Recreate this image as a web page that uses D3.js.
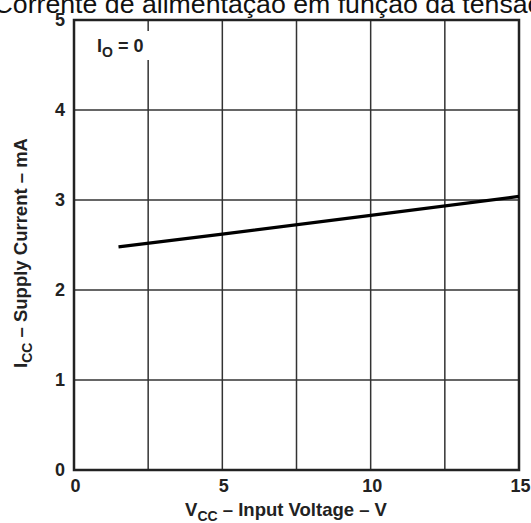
<!DOCTYPE html>
<html>
<head>
<meta charset="utf-8">
<script src="https://cdn.jsdelivr.net/npm/d3@7"></script>
<style>
  body { margin: 0; background: #fff; }
  svg { display: block; font-family: "Liberation Sans", Arial, sans-serif; }
  .rotulo { font-weight: bold; font-size: 18px; fill: #222; }
  .titulo { font-weight: bold; font-size: 18.5px; fill: #222; }
</style>
</head>
<body>
<svg id="grafico"></svg>
<script>
// dados
var tensao = [1.5, 5, 10, 15];            // VCC (V)
var corrente = [2.48, 2.62, 2.83, 3.04];  // ICC (mA)
var ticksX = [0, 5, 10, 15];
var gradeX = [2.5, 5, 7.5, 10, 12.5];
var ticksY = [0, 1, 2, 3, 4, 5];
var gradeY = [1, 2, 3, 4];

var largura = 531, altura = 523;
var margem = { esquerda: 74, direita: 12, superior: 20, inferior: 53 };
var larguraPlotagem = largura - margem.esquerda - margem.direita;
var alturaPlotagem = altura - margem.superior - margem.inferior;

var svg = d3.select('#grafico')
            .attr('width', largura)
            .attr('height', altura);

// titulo (cortado nas bordas como no original)
svg.append('text')
   .attr('x', 268)
   .attr('y', 13)
   .style('text-anchor', 'middle')
   .style('font-size', '26.7px')
   .style('fill', '#111')
   .text('Corrente de alimentação em função da tensão');

var plotagem = svg.append('g')
                  .attr('transform', 'translate(' + margem.esquerda + ',' + margem.superior + ')');

var x = d3.scaleLinear().domain([0, 15]).range([0, larguraPlotagem]);
var y = d3.scaleLinear().domain([0, 5]).range([alturaPlotagem, 0]);

// grade
plotagem.selectAll('.gradeX')
  .data(gradeX)
  .enter()
    .append('line')
    .attr('x1', d => x(d)).attr('x2', d => x(d))
    .attr('y1', 0).attr('y2', alturaPlotagem)
    .attr('stroke', '#333').attr('stroke-width', 1.5);

plotagem.selectAll('.gradeY')
  .data(gradeY)
  .enter()
    .append('line')
    .attr('x1', 0).attr('x2', larguraPlotagem)
    .attr('y1', d => y(d)).attr('y2', d => y(d))
    .attr('stroke', '#333').attr('stroke-width', 1.5);

// anotacao IO = 0 com fundo branco
plotagem.append('rect')
        .attr('x', 16).attr('y', 11)
        .attr('width', 62).attr('height', 29)
        .attr('fill', '#fff');
var anot = plotagem.append('text')
                   .attr('x', 23).attr('y', 32)
                   .attr('class', 'rotulo');
anot.append('tspan').text('I');
anot.append('tspan').attr('dy', 5).style('font-size', '14px').text('O');
anot.append('tspan').attr('dy', -5).text(' = 0');

// borda
plotagem.append('rect')
        .attr('x', 0).attr('y', 0)
        .attr('width', larguraPlotagem).attr('height', alturaPlotagem)
        .attr('fill', 'none').attr('stroke', '#222').attr('stroke-width', 2.5);

// curva
var linha = d3.line().x(d => x(d[0])).y(d => y(d[1]));
plotagem.append('path')
        .datum(d3.zip(tensao, corrente))
        .attr('d', linha)
        .attr('fill', 'none')
        .attr('stroke', '#000')
        .attr('stroke-width', 3.2);

// eixos
var eixoX = d3.axisBottom(x).tickValues(ticksX).tickSize(0).tickPadding(9).tickFormat(d3.format('d'));
plotagem.append('g')
        .attr('transform', 'translate(1,' + alturaPlotagem + ')')
        .call(eixoX)
        .call(g => g.select('.domain').remove())
        .selectAll('text').attr('class', 'rotulo').attr('fill', null);

var eixoY = d3.axisLeft(y).tickValues(ticksY).tickSize(0).tickPadding(9).tickFormat(d3.format('d'));
plotagem.append('g')
        .call(eixoY)
        .call(g => g.select('.domain').remove())
        .selectAll('text').attr('class', 'rotulo').attr('fill', null);

// titulos dos eixos
var tituloX = svg.append('text')
                 .attr('x', 286).attr('y', 516)
                 .style('text-anchor', 'middle')
                 .attr('class', 'titulo');
tituloX.append('tspan').text('V');
tituloX.append('tspan').attr('dy', 5).style('font-size', '14px').text('CC');
tituloX.append('tspan').attr('dy', -5).text(' – Input Voltage – V');

var tituloY = svg.append('text')
                 .attr('transform', 'translate(27,253) rotate(-90)')
                 .style('text-anchor', 'middle')
                 .attr('class', 'titulo');
tituloY.append('tspan').text('I');
tituloY.append('tspan').attr('dy', 5).style('font-size', '14px').text('CC');
tituloY.append('tspan').attr('dy', -5).text(' – Supply Current – mA');
</script>
</body>
</html>
